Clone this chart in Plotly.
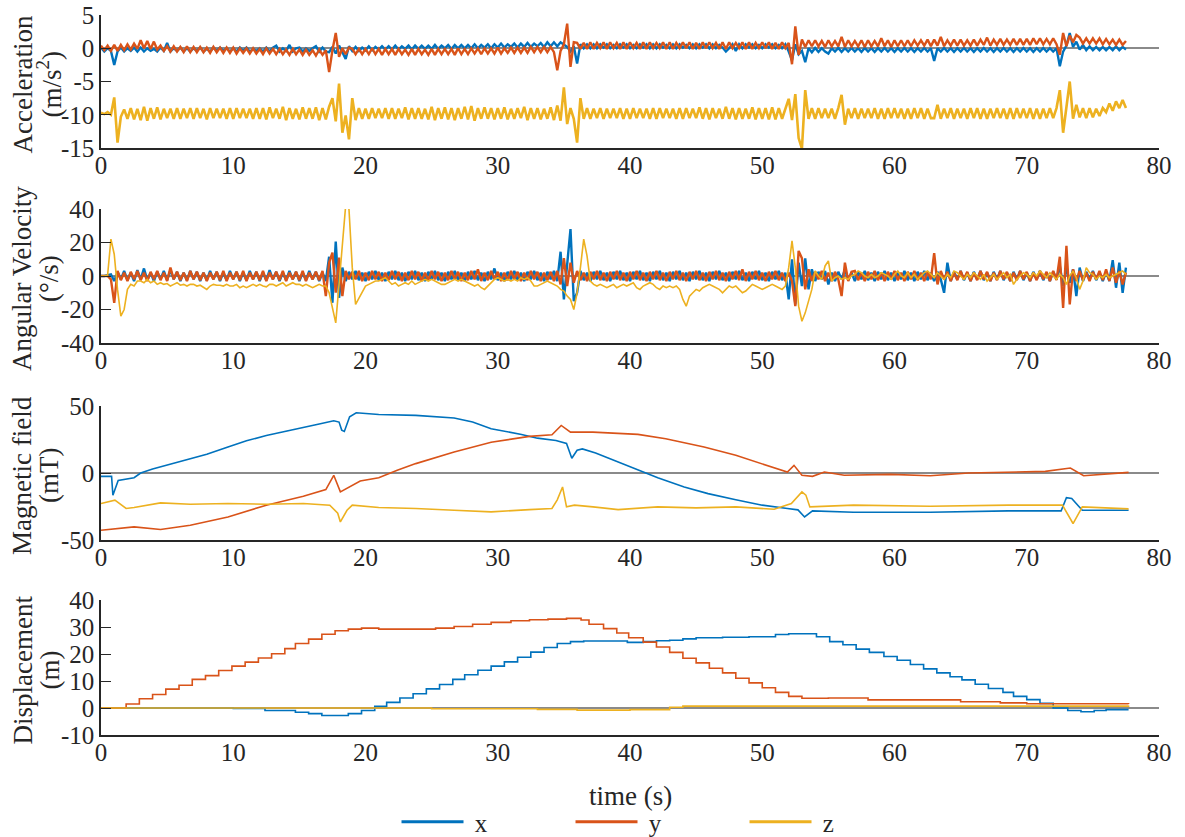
import numpy as np
import plotly.graph_objects as go

# ---------------- data ----------------
DT = 0.25  # sample spacing (s) of the IMU series below

acc_x = [
 0.1,-0.5,0.0,-0.4, -2.5,-0.5,0.1,-0.5, 0.0,-0.4,0.1,-0.5, 0.1,-0.5,0.0,-0.4, -0.1,-0.5,0.1,-0.4,
 0.8,-0.5,0.0,-0.4, 0.1,-0.5,0.0,-0.5, 0.0,-0.4,0.1,-0.5, -0.1,-0.5,0.1,-0.4, 0.1,-0.4,0.0,-0.5,
 0.0,-0.5,0.1,-0.4, 0.1,-0.5,-0.1,-0.4, 0.0,-0.5,0.1,-0.5, 0.1,0.4,-0.5,0.0, -0.4,0.5,-0.5,0.0,
 0.1,-0.5,0.0,-0.4, 0.0,0.3,-0.5,0.1, -0.5,-0.6,0.2,-0.8, 0.4,-0.5,-1.6,0.3, -0.4,0.2,-0.4,0.1,
 -0.3,0.3,-0.3,0.2, -0.2,0.3,-0.2,0.3, -0.2,0.4,-0.2,0.3, -0.1,0.4,-0.2,0.4, -0.1,0.4,-0.1,0.4,
 -0.1,0.5,-0.1,0.4, 0.0,0.5,-0.1,0.5, 0.0,0.5,0.0,0.5, 0.0,0.6,0.0,0.5, 0.1,0.6,0.0,0.6,
 0.1,0.7,0.1,0.6, 0.2,0.7,0.1,0.7, 0.2,0.8,0.2,0.7, 0.3,0.8,0.2,0.9, 0.3,0.9,0.3,0.9,
 0.6,0.2,-0.5,0.3, -2.3,0.6,0.0,0.6, 0.0,0.6,0.0,0.6, 0.1,0.6,0.0,0.5, 0.0,0.6,0.1,0.6,
 0.0,0.5,0.0,0.6, 0.1,0.6,0.0,0.6, 0.0,0.6,0.1,0.5, 0.0,0.6,0.0,0.6, 0.1,0.5,0.0,0.6,
 0.0,0.6,0.1,0.6, 0.0,0.6,0.0,0.5, 0.1,-0.5,0.0,0.6, -0.4,0.6,0.0,0.6, 0.1,0.6,0.0,0.5,
 0.0,0.6,0.1,0.6, 0.0,0.5,0.0,0.6, -0.5,-1.8,0.6,-0.9, -0.4,-2.1,0.0,-0.6, 0.05,-0.55,0.0,-0.5,
 -0.8,0.0,-0.5,0.05, -0.55,0.0,-0.5,0.05, -0.5,0.0,-0.55,0.05, -0.5,0.0,-0.55,0.0, -0.5,0.05,-0.5,0.0,
 -0.55,0.0,-0.5,0.05, -0.5,0.0,-0.55,0.0, -0.5,0.05,-0.5,0.0, -1.9,0.0,-0.5,0.05, -0.5,0.0,-0.55,0.0,
 -0.5,0.05,-0.5,0.0, -0.55,0.0,-0.5,0.05, -0.5,0.0,-0.55,0.0, -0.5,0.05,-0.5,0.0, -0.55,0.0,-0.5,0.05,
 -0.5,0.0,-0.55,0.0, -0.5,0.05,-0.5,0.0, -0.5,0.0,-2.7,-0.5, 0.4,2.3,0.2,1.0, -0.2,0.5,-0.3,0.3,
 -0.3,0.2,-0.3,0.2, -0.3,0.2,-0.3,0.3, -0.3,0.2,-0.2]

acc_y = [
 0.4,-0.3,0.4,-0.4, 0.5,-0.4,0.5,-0.3, 0.6,-0.2,0.7,-0.1, 1.2,0.0,1.1,-0.1, 1.0,-0.2,0.4,-0.4,
 0.3,-0.5,0.3,-0.5, 0.2,-0.6,0.3,-0.6, 0.2,-0.6,0.2,-0.6, 0.1,-0.7,0.2,-0.6, 0.1,-0.7,0.1,-0.7,
 0.1,-0.8,0.0,-0.7, 0.0,-0.8,0.0,-0.8, -0.1,-0.9,0.0,-0.8, -0.1,-0.9,-0.1,-0.9, -0.2,-1.0,-0.1,-0.9,
 -0.2,-1.0,-0.2,-1.0, -0.3,-1.1,-0.2,-1.0, -0.3,-3.6,-0.3,2.3, -1.3,0.0,-0.9,0.1, -0.1,-0.9,-0.1,-0.9,
 -0.1,-0.9,0.0,-0.9, -0.1,-1.0,-0.1,-0.9, -0.1,-1.0,-0.1,-0.9, -0.2,-1.0,-0.1,-1.0, -0.1,-0.9,-0.2,-1.0,
 -0.1,-1.0,-0.1,-0.9, -0.1,-0.9,-0.1,-1.0, 0.0,-0.9,-0.1,-0.9, 0.0,-0.8,0.0,-0.9, 0.0,-0.8,0.0,-0.8,
 0.1,-0.8,0.0,-0.7, 0.1,-0.7,0.1,-0.7, 0.1,-0.7,0.2,-0.6, 0.2,-0.6,0.2,-0.6, 0.2,-0.6,-3.3,-0.4,
 0.6,3.7,-2.8,0.9, 0.8,-0.1,0.8,-0.1, 0.9,-0.1,0.8,0.0, 0.9,-0.1,0.9,0.0, 0.8,-0.1,0.9,-0.1,
 0.9,0.0,0.8,-0.1, 0.9,-0.1,0.9,0.0, 0.8,0.0,0.9,-0.1, 0.9,-0.1,0.8,0.0, 0.9,0.0,0.9,-0.1,
 0.8,-0.1,0.9,0.0, 0.9,0.0,0.8,-0.1, 0.9,-0.1,0.9,0.0, 0.8,0.0,0.9,-0.1, 0.9,-0.1,0.8,0.0,
 0.9,0.0,0.9,-0.1, 0.8,-0.1,0.9,0.0, 0.8,-2.4,3.3,-1.0, 1.3,0.2,1.2,0.3, 1.2,0.3,1.1,0.2,
 1.2,0.3,1.1,0.3, 1.7,0.2,1.2,0.3, 1.1,0.3,1.2,0.2, 1.2,0.3,1.1,0.3, 1.5,0.3,1.2,0.2,
 1.2,0.3,1.2,0.3, 1.2,0.3,1.2,0.4, 1.2,0.4,1.3,0.3, 1.3,0.4,1.7,0.3, 1.2,0.4,1.3,0.4,
 1.3,0.4,1.2,0.4, 1.3,0.4,1.3,0.5, 1.6,0.4,1.3,0.5, 1.4,0.5,1.3,0.5, 1.4,0.5,1.4,0.5,
 1.4,0.5,1.5,0.6, 1.5,0.6,1.4,0.6, 1.5,0.6,-1.0,2.3, 0.3,1.9,0.9,2.0, 1.6,0.7,1.5,0.7,
 1.5,0.7,1.5,0.6, 1.4,0.6,1.3,0.5, 1.3,0.5,1.1]

acc_z = [
 -9.7,-9.9,-9.6,-10.0, -7.4,-14.2,-10.3,-9.2, -10.6,-9.0,-10.7,-9.1, -10.8,-8.8,-10.9,-9.0, -10.6,-8.9,-10.7,-9.1,
 -10.5,-9.1,-10.6,-9.0, -10.6,-9.1,-10.5,-9.0, -10.6,-9.0,-10.5,-9.1, -10.7,-9.0,-10.5,-9.1, -10.5,-9.1,-10.6,-9.0,
 -10.6,-9.0,-10.5,-9.1, -10.5,-9.1,-10.6,-9.0, -10.6,-9.0,-10.7,-8.9, -10.5,-9.1,-10.6,-8.8, -10.8,-9.0,-10.6,-9.1,
 -10.7,-8.9,-10.6,-9.0, -10.6,-8.9,-10.8,-9.0, -10.7,-8.8,-7.5,-11.0, -5.3,-12.7,-10.1,-13.7, -7.5,-10.8,-9.0,-10.6,
 -9.1,-10.6,-9.0,-10.5, -9.1,-10.5,-9.0,-10.6, -9.0,-10.6,-9.1,-10.5, -8.9,-10.7,-9.0,-10.6, -9.0,-10.6,-9.1,-10.7,
 -8.8,-10.8,-9.0,-10.6, -8.9,-10.7,-9.0,-10.8, -9.0,-10.6,-8.8,-10.7, -8.7,-10.9,-9.0,-10.6, -8.9,-10.6,-9.0,-10.7,
 -9.0,-10.6,-8.9,-10.7, -9.1,-10.6,-9.0,-10.5, -8.8,-10.8,-9.0,-10.6, -9.0,-10.7,-9.1,-10.6, -8.9,-10.8,-8.6,-10.9,
 -5.9,-11.4,-9.0,-10.6, -14.2,-7.5,-10.6,-9.0, -10.6,-9.1,-10.5,-9.0, -10.6,-9.1,-10.5,-9.1, -10.5,-9.0,-10.6,-9.1,
 -10.6,-9.0,-10.5,-9.1, -10.5,-9.1,-10.6,-9.0, -10.6,-9.0,-10.5,-9.1, -10.5,-9.1,-10.6,-9.0, -10.6,-9.0,-10.5,-9.1,
 -10.5,-8.9,-10.6,-9.0, -10.7,-9.0,-10.5,-9.1, -10.6,-8.8,-10.6,-9.0, -10.7,-9.0,-10.6,-9.1, -10.6,-8.9,-10.7,-9.0,
 -10.6,-9.0,-10.7,-8.9, -10.7,-9.0,-10.6,-9.0, -7.6,-10.8,-6.9,-13.5, -15.1,-6.3,-10.6,-9.0, -10.6,-9.0,-10.5,-9.1,
 -10.5,-9.1,-10.6,-9.0, -7.0,-11.5,-9.1,-10.5, -9.0,-10.6,-9.1,-10.5, -9.1,-10.5,-9.0,-10.6, -9.1,-10.6,-9.0,-10.5,
 -9.0,-10.5,-9.1,-10.6, -9.1,-10.6,-9.0,-10.5, -9.0,-10.6,-9.1,-10.5, -10.5,-8.5,-10.6,-9.1, -10.5,-9.0,-10.6,-9.1,
 -10.5,-9.1,-10.6,-9.0, -10.5,-9.0,-10.6,-9.1, -10.6,-9.1,-10.5,-9.0, -10.5,-9.1,-10.6,-9.0, -10.6,-9.0,-10.5,-9.1,
 -10.5,-9.0,-10.6,-9.1, -10.6,-9.1,-10.5,-9.0, -10.5,-9.0,-6.3,-12.7, -8.8,-5.0,-10.6,-8.5, -10.4,-9.0,-10.5,-9.0,
 -10.4,-9.1,-10.2,-9.0, -9.6,-8.3,-9.4,-8.0, -9.0,-7.8,-9.0]

gyr_x = [
 0,0,0.5,1, -3,2.5,-2,3, -2.5,2,-3,3.5, -2,4.5,-2.5,2, -3,2.5,-2,3,
 -2.5,3.5,-2,2.5, -3,2,-2.5,3, -2,2.5,-3,2, -2.5,3,-2,2.5, -3,2,-2.5,3,
 -2,2.5,-3,2, -2.5,3,-2,2.5, -3,2,-2.5,3.5, -2,2.5,-3,2, -2.5,3,-2,2.5,
 -3,2,-2.5,3, -2,2.5,-3,2, -3,11.5,-16,20.5, -13,5,-3,2.5, -2,3,-2.5,2,
 -3,2.5,-2,3, -2.5,2,-3,2.5, -2,3,-2.5,2, -3,2.5,-2,3, -2.5,2,-3,2.5,
 -2,3,-2.5,2, -3,2.5,-2,3, -2.5,2,-3,2.5, -2,3,-2.5,2, -3,2.5,-2,4.5,
 -2.5,2,-3,2.5, -2,3,-2.5,2, -3,2.5,-2,3, -2.5,2,-3,2.5, -2,3,-3,14.5,
 -14,5,28,-15, -10,3,-2.5,2, -3,2.5,-2,3, -2.5,2,-3,2.5, -2,3,-2.5,2,
 -3,2.5,-2,3, -2.5,2,-3,2.5, -2,3,-2.5,2, -3,2.5,-2,3, -2.5,2,-3,2.5,
 -2,3,-2.5,2, -3,2.5,-2,3, -2.5,2,-3,2.5, -2,3,-2.5,2, -3,2.5,-2,3,
 -2.5,2,-3,2.5, -2,3,-2.5,2, -14,10,-17,8, -6,10.5,-8,4, -3,2.5,-2,3,
 -5,2,-3,2.5, -2,4,-2.5,2, -3,2.5,-2,3, -2.5,2,-3,2.5, -2,3,-2.5,2,
 -3,2.5,-2,3, -2.5,2,-3,2.5, -2,3,-2.5,2, -3,2.5,-2,-10, 8,-3,2.5,-2,
 3,-2.5,2,-3, 2.5,-2,3,-2.5, 2,-3,2.5,-2, 3,-2.5,2,-3, 2.5,-2,3,-2.5,
 2,-3,2.5,-2, 3,-2.5,2,-3, 2.5,-2,6,-6, 5,-4,4,-12, 5,-3,2.5,-2,
 3,-2.5,2,-3, 2.5,-3,9.5,-7, 8,-10,5]

gyr_y = [
 0,0,0,-2, -16,3,-2.5,2, -3,2.5,-2,3, -2.5,2,-3,2.5, -2,3,-2.5,2,
 -3,5,-2,2.5, -2.5,2,-3,3, -2,2.5,-2.5,2, -3,2,-2,2.5, -2.5,3,-3,2,
 -2,2.5,-2.5,3, -3,2,-2,2.5, -2.5,3,-3,2, -2,2.5,-2.5,3, -3,2,-2,2.5,
 -2.5,3,-3,2, -2,2.5,-2.5,3, -12,8,14,-10, 11,-12,3,-2, 2.5,-2,3,-3,
 2,-2.5,3,-2, 2.5,-3,2,-2.5, 3,-2,2.5,-3, 2,-2.5,3,-2, 2.5,-3,2,-2.5,
 3,-2,2.5,-3, 2,-2.5,3,-2, 2.5,-3,2,-2.5, 3,-2,4,-3, 2,-2.5,3,-2,
 2.5,-3,2,-2.5, 3,-2,2.5,-3, 2,-2.5,3,-2, 2.5,-3,2,-2.5, 2.5,-3,3,-5,
 10.6,-6,8,-4, 3,-2.5,2,-3, 2.5,-2,3,-2.5, 2,-3,2.5,-2, 3,-2.5,2,-3,
 2.5,-2,3,-2.5, 2,-3,2.5,-2, 3,-2.5,2,-3, 2.5,-2,3,-2.5, 2,-3,2.5,-2,
 3,-2.5,2,-3, 2.5,-2,3,-2.5, 2,-3,2.5,-2, 3,-2.5,4,-3, 2.5,-2,3,-2.5,
 2,-3,2.5,-2, 3,-2.5,2,-3, 2,-3,-18,15, 10.6,-8,4,-3, 2.5,-2,3,-3,
 2,-3,2.5,-2, -12,8,-3,2.5, 3,-2.5,2,-3, 2.5,-2,3,-2.5, 2,-3,2.5,-2,
 3,-2.5,2,-3, 2.5,-2,3,-2.5, 2,-3,2.5,-2, 13.7,-5,3,-2, 2.5,-3,2,-2.5,
 3,-2,2.5,-3, 2,-2.5,3,-2, 2.5,-3,2,-2.5, 3,-2,2.5,-3, 2,-2.5,3,-2,
 2.5,-3,2,-2.5, 3,-2,2.5,-3, 3,-2.5,11.5,-19, 18,-17,4,-3, 3,-2.5,2,-3,
 2.5,-2,3,-2.5, 4,-3,5,-4, 3,-5,2]

gyr_z = [
 0,0,0.5,22, 13,-8,-24,-20, -8,-5,-6,-3, -3,-4,-2,-4, -3,-5,-4,-5,
 -4.5,-6,-5,-4, -5.5,-5,-6,-5, -5,-6,-5.5,-7, -8,-6,-5,-5.5, -5.5,-6,-5,-6,
 -6,-5,-7,-6, -7,-6,-5,-6, -5,-6,-6.5,-5, -5,-6,-5,-4, -6,-5,-4,-5,
 -5,-6,-5,-6, -7,-6,-5,-6, -6,-10,-20,-28, -5,20,42,40, 5,-17,-13,-10,
 -6,-5,-4,-3, -3,-2,-1,-3, -5,-4,-6,-5, -4,-5,-3,-5, -4,-3,-2,-3,
 -2,-3,-4,-5, -5,-4,-3,-2, -3,-2,-3,-4, -5,-6,-5,-7, -8,-6,-4,-2,
 -1,-2,-3,-2, -3,-2,-3,-1, -2,-1,-3,-6, -6,-5,-4,-3, -4,-5,-6,-8,
 -9,-12,-14,-20, -10,5,22,12, -3,-5,-6,-5, -6,-7,-6,-5, -7,-6,-5,-6,
 -5,-4,-7,-8, -6,-5,-4,-5, -7,-8,-6,-7, -6,-7,-6,-8, -14,-18,-12,-10,
 -8,-9,-7,-6, -5,-6,-7,-8, -10,-8,-6,-7, -6,-8,-10,-9, -7,-5,-6,-7,
 -8,-7,-6,-5, -6,-7,-8,-6, 5,21,5,-18, -27,-22,-15,-8, 3,0,-2,6,
 9,-3,-1,0, -2,-1,-2,0, 1,3,2,0, -1,1,-1,0, 2,1,0,-2,
 1,3,0,-1, 2,-1,1,-2, 0,2,3,1, -1,2,0,-2, 1,-1,3,2,
 0,-2,1,-1, 2,0,-2,1, -3,-1,1,-2, 0,2,-1,1, -5,-2,0,2,
 1,-1,2,0, 3,1,-1,2, 0,-2,1,-1, -5,0,3,-1, -8,-3,5,2,
 1,-2,0,-1, 1,-1,0,1, 2,3,1]

mag_x_t = [0,0.8,0.9,1.3,2.5, 3.0,3.9,5.0,6.75,8.0, 9.6,11.0,12.5,14.0,15.3, 16.5,17.6,18.0,18.2,18.4,
           18.8,19.3,21.0,23.8,26.7, 28.1,29.5,31.8,33.0,34.4, 35.2,35.6,36.0,36.4,37.4, 39.1,41.0,42.1,44.1,45.9,
           48.0,50.0,51.9,52.7,53.2, 53.8,56.9,62.7,68.6,72.6, 73.0,73.4,74.2,77.7]
mag_x = [-2.5,-2.5,-16.6,-5.5,-3.5, 0,3,6,10.7,14, 19.4,24,28,31,34, 36.5,39,38,32,31,
         42,45,43.7,43,41, 38,33,28.8,26,24.3, 22,11,17,18,15, 8.2,0.7,-3.5,-10.4,-15.4,
         -19.9,-24,-26.5,-27.5,-32.8, -28.3,-29.3,-29.3,-28.3,-28.3, -18.4,-19,-27.8,-27.8]

mag_y_t = [0,2.5,4.5,6.75,9.6, 12.5,15.3,17.0,17.6,18.0, 18.1,19.6,21.0,22.4,23.8, 26.7,29.5,32.4,34.1,34.8,
           35.5,37.2,40.6,42.7,45.6, 48.0,50.0,51.9,52.4,53.0, 53.8,54.7,56.2,59.7,62.7, 65.6,71.4,73.3,74.3,77.7]
mag_y = [-42.7,-40.2,-42.2,-39,-32.8, -24,-17.4,-12.4,-1.7,-12.9, -14.1,-6,-3.5,2,7, 15.6,23,27.3,28.5,35.5,
         30.5,30.5,28.8,25.6,19.4, 13.2,7,0.7,5.7,-1.7, -2.5,0.7,-1.7,-1,-2, 0,1.2,3.7,-2,0.5]

mag_z_t = [0,1.05,1.9,2.5,4.5, 6.75,9.6,12.5,15.3,17.3, 17.9,18.1,18.6,19.0,21.0, 23.8,26.7,29.5,32.4,34.1,
           34.5,34.9,35.2,35.8,37.2, 39.1,42.1,45.0,48.0,50.9, 52.2,53.0,53.3,53.6,56.9, 62.7,68.6,72.7,73.5,74.2, 77.7]
mag_z = [-22.8,-20.3,-26.5,-25.8,-22.3, -23.3,-22.8,-23.3,-22.8,-24, -30,-36.5,-27.8,-24,-25.8, -26.5,-27.8,-29,-27.3,-26.5,
         -20,-10.4,-25.3,-24,-25.3, -27.3,-25.3,-26,-25.3,-27, -22.8,-14.1,-16.5,-25.3,-24, -24.8,-24,-24,-37.7,-25.3, -26.8]

disp_x_t = [0,10,12.4,14.7,15.7, 16.7,18.7,19.7,20.7,21.6, 22.6,23.6,24.6,25.6,26.6, 27.5,28.5,29.5,30.5,31.5,
            32.5,33.5,34.5,35.5,36.5, 39.8,41,42,43,44, 45,47,49,51,52, 54.1,55.1,56.1,57.1,58.1,
            59.2,60.2,61.2,62.2,63.2, 64.2,65.1,66.1,67.1,68.2, 69,70,71,72,73.1, 74.1,75.1,76,77.7]
disp_x = [0,-0.2,-0.9,-1.6,-2.1, -2.8,-2.1,-0.9,0.6,2.1, 3.7,5.3,7.1,8.7,10.6, 12.3,14,15.5,17.1,18.8,
          20.7,22.4,23.9,24.6,24.8, 24.3,24.6,24.9,25.1,25.6, 26,26.2,26.4,27.2,27.5, 26.4,24.6,23.4,21.8,20.6,
          19.1,17.7,16.1,14.5,13, 11.6,10.4,8.8,7.2,5.8, 4.3,3.1,1.7,0,-0.9, -1.4,-0.9,-0.6,-0.6]

disp_y_t = [0,1.9,2.9,3.9,4.9, 5.9,6.9,7.9,8.9,9.9, 10.9,11.9,12.9,13.9,14.7, 15.7,16.7,17.7,18.7,19.7,
            21,25.3,26.7,28.1,29.5, 31,32.4,33.8,35.2,36.3, 36.9,38,39,39.9,41, 42,43,44,45,46,
            47,48,49,50,51, 52,53,55,57,58, 65,68,70,77.7]
disp_y = [0,1.5,3.4,5,7, 8.4,10.6,12,13.9,15.5, 17,18.5,20.1,22,23.9, 25.5,27.3,28.6,29.2,29.6,
          29.2,29.6,30.2,31,31.7, 32.3,32.7,32.9,33.2,32.6, 31,29.4,27.8,26,24.4, 22.6,20.6,18.4,16.7,14.7,
          13,11,9.3,7.5,5.8, 4.3,3.6,3.7,3.7,3, 2.3,1.9,1.6,1.5]

disp_z_t = [0,20,25,33,36,40,43,44,77.7]
disp_z = [0,0,-0.3,-0.5,-0.8,-0.6,0.3,0.7,0.9]

x_ticks = [0, 10, 20, 30, 40, 50, 60, 70, 80]
title_line1 = ["Acceleration", "Angular Velocity", "Magnetic field", "Displacement"]
title_line2 = ["(m/s<sup>2</sup>)", "(°/s)", "(mT)", "(m)"]
panel_ticks = [[-15, -10, -5, 0, 5], [-40, -20, 0, 20, 40], [-50, 0, 50], [-10, 0, 10, 20, 30, 40]]
series_names = ["x", "y", "z"]
x_title = "time (s)"

# ---------------- styling ----------------
COLORS = ["#0072BD", "#D95319", "#EDB120"]
FONT = '"Liberation Serif", "Times New Roman", Times, serif'
AX = "#262626"
W, H = 1185, 837
ML, MR, MT, MB = 101, 26, 15, 102
pw = W - ML - MR
ph = H - MT - MB
rows = [(15, 148), (209, 343), (406, 540), (600, 735)]  # pixel rows of each panel
TICK_FS = 25
LABEL_FS = 27
# line width per panel/series (noisy IMU bands drawn a bit heavier)
WIDTHS = [[2.4, 2.4, 2.6], [2.4, 2.4, 1.6], [1.6, 1.6, 1.6], [1.6, 1.6, 1.6]]

def px_x(px):
    return (px - ML) / pw

def px_y(py):
    return (H - MB - py) / ph

fig = go.Figure()

def sample_times(v):
    return np.arange(len(v)) * DT

panels = [
    [(sample_times(acc_x), acc_x), (sample_times(acc_y), acc_y), (sample_times(acc_z), acc_z)],
    [(sample_times(gyr_x), gyr_x), (sample_times(gyr_y), gyr_y), (sample_times(gyr_z), gyr_z)],
    [(mag_x_t, mag_x), (mag_y_t, mag_y), (mag_z_t, mag_z)],
    [(disp_x_t, disp_x), (disp_y_t, disp_y), (disp_z_t, disp_z)],
]

for p, series in enumerate(panels):
    k = p + 1
    for s, (t, v) in enumerate(series):
        fig.add_trace(go.Scatter(
            x=t, y=v, mode="lines", name=series_names[s], showlegend=False,
            line=dict(color=COLORS[s], width=WIDTHS[p][s], shape="hv" if p == 3 else "linear"),
            xaxis=f"x{k}", yaxis=f"y{k}", hoverinfo="skip"))

# legend entries
for s in range(3):
    fig.add_trace(go.Scatter(x=[None], y=[None], mode="lines", name=" " + series_names[s],
                             line=dict(color=COLORS[s], width=3), xaxis="x4", yaxis="y4",
                             showlegend=True))

annotations = []
for p in range(4):
    top, bot = rows[p]
    cy = px_y((top + bot) / 2 + 3)
    annotations.append(dict(text=title_line1[p], x=px_x(22), y=cy, xref="paper", yref="paper",
                            xanchor="center", yanchor="middle", textangle=-90, showarrow=False,
                            font=dict(family=FONT, size=LABEL_FS, color=AX)))
    annotations.append(dict(text=title_line2[p], x=px_x(49), y=cy, xref="paper", yref="paper",
                            xanchor="center", yanchor="middle", textangle=-90, showarrow=False,
                            font=dict(family=FONT, size=LABEL_FS, color=AX)))
annotations.append(dict(text=x_title, x=0.5, y=px_y(796), xref="paper", yref="paper",
                        xanchor="center", yanchor="middle", showarrow=False,
                        font=dict(family=FONT, size=LABEL_FS, color=AX)))

layout = dict(
    width=W, height=H, paper_bgcolor="white", plot_bgcolor="white",
    margin=dict(l=ML, r=MR, t=MT, b=MB, autoexpand=False),
    font=dict(family=FONT, size=TICK_FS, color=AX),
    showlegend=True,
    legend=dict(orientation="h", x=0.526, xanchor="center", y=px_y(822), yanchor="middle",
                font=dict(family=FONT, size=TICK_FS, color=AX), itemwidth=62, entrywidth=97,
                bgcolor="rgba(0,0,0,0)", tracegroupgap=0),
    annotations=annotations,
)
for p in range(4):
    k = p + 1
    top, bot = rows[p]
    ticks = panel_ticks[p]
    layout[f"xaxis{k}"] = dict(
        domain=[0, 1], anchor=f"y{k}", range=[0, 80], tickvals=x_ticks,
        ticktext=[str(v) for v in x_ticks], ticks="", showline=True, linecolor=AX, linewidth=1.5,
        showgrid=False, zeroline=False, tickfont=dict(family=FONT, size=TICK_FS, color=AX),
        ticklabelstandoff=-6)
    layout[f"yaxis{k}"] = dict(
        domain=[px_y(bot), px_y(top)], anchor=f"x{k}", range=[ticks[0], ticks[-1]], tickvals=ticks,
        ticktext=[str(v) for v in ticks], ticks="inside", ticklen=10, tickwidth=1.2, tickcolor=AX,
        showline=True, linecolor=AX, linewidth=1.5, showgrid=False,
        zeroline=True, zerolinecolor="#8a8a8a", zerolinewidth=2,
        tickfont=dict(family=FONT, size=TICK_FS, color=AX))

fig.update_layout(**layout)
fig.write_html("out.html")
